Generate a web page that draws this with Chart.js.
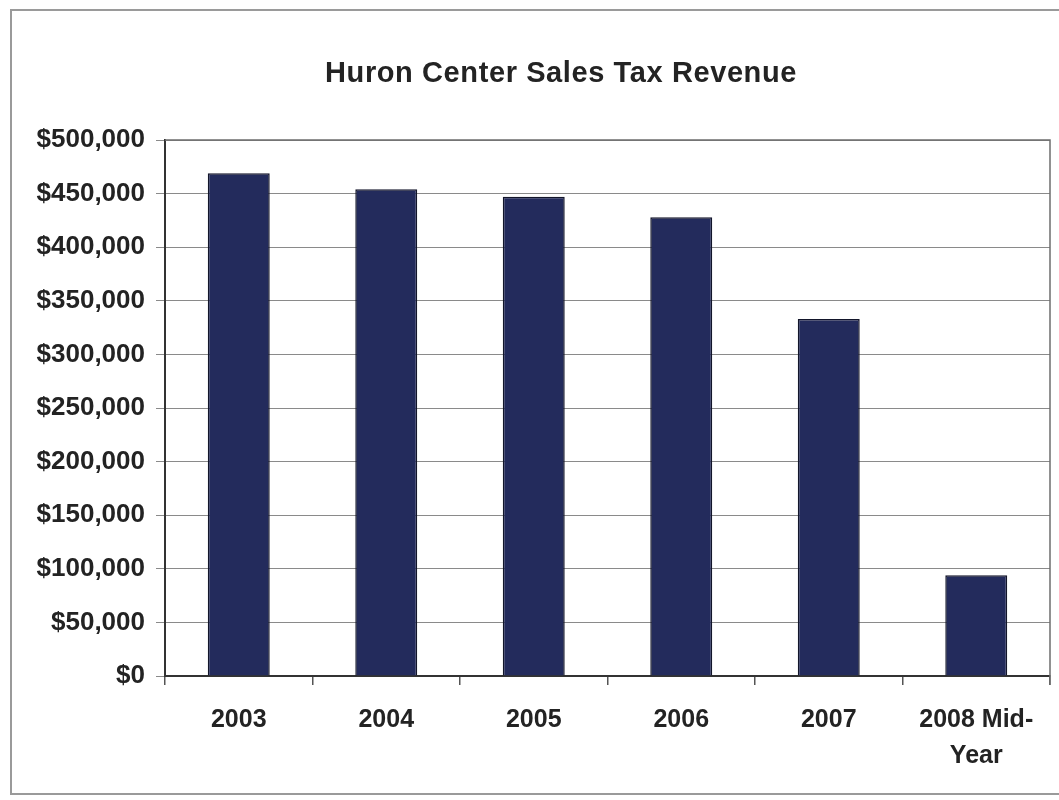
<!DOCTYPE html>
<html>
<head>
<meta charset="utf-8">
<title>Huron Center Sales Tax Revenue</title>
<script src="https://cdn.jsdelivr.net/npm/chart.js@4/dist/chart.umd.min.js"></script>
<style>
  html, body { margin: 0; padding: 0; background: #fff; }
  #wrap { width: 1059px; height: 800px; position: relative; }
</style>
</head>
<body>
<div id="wrap"><canvas id="taxChart" width="1059" height="800"></canvas></div>
<script>
'use strict';
// chart data
const chartTitle = 'Huron Center Sales Tax Revenue';
const years = ['2003', '2004', '2005', '2006', '2007', ['2008 Mid-', 'Year']];
const revenue = [469000, 454000, 447000, 428000, 333000, 94000];
const yTicks = [0, 50000, 100000, 150000, 200000, 250000, 300000, 350000, 400000, 450000, 500000];

const textColor = '#232323';
const font = 'Arial, "Liberation Sans", Helvetica, sans-serif';

function formatCur(v) {
    return '$' + v.toLocaleString('en-US');
}

// outer frame, title, gray top/right plot border
const framePlugin = {
    id: 'frame',
    beforeDraw(chart) {
        const ctx = chart.ctx;
        ctx.save();
        ctx.fillStyle = '#fff';
        ctx.fillRect(0, 0, chart.width, chart.height);
        ctx.strokeStyle = '#9a9a9a';
        ctx.lineWidth = 2;
        ctx.strokeRect(11, 10, chart.width + 20, 784);

        // title, a bit right of the plot centre like the original
        ctx.fillStyle = textColor;
        ctx.font = 'bold 29px ' + font;
        if ('letterSpacing' in ctx) ctx.letterSpacing = '0.6px';
        ctx.textAlign = 'center';
        ctx.textBaseline = 'middle';
        ctx.fillText(chartTitle, 561, 74);
        ctx.restore();
    },
    beforeDatasetsDraw(chart) {
        const a = chart.chartArea;
        const ctx = chart.ctx;
        ctx.save();
        ctx.strokeStyle = '#6e6e6e';
        ctx.lineWidth = 1.5;
        ctx.beginPath();
        ctx.moveTo(a.left, a.top);
        ctx.lineTo(a.right, a.top);
        ctx.lineTo(a.right, a.bottom + 9);
        ctx.stroke();
        ctx.restore();
    }
};

new Chart(document.getElementById('taxChart'), {
    type: 'bar',
    data: {
        labels: years,
        datasets: [{
            label: 'Sales Tax Revenue',
            data: revenue,
            backgroundColor: '#232b5c',
            borderColor: '#12152a',
            borderWidth: 1.5,
            categoryPercentage: 1,
            barPercentage: 0.42
        }]
    },
    options: {
        responsive: false,
        animation: false,
        layout: { padding: { left: 0, right: 9, top: 140, bottom: 0 } },
        plugins: {
            legend: { display: false },
            tooltip: { enabled: false },
            title: { display: false }
        },
        scales: {
            x: {
                grid: { drawOnChartArea: false, tickLength: 9, color: '#555', lineWidth: 1.5 },
                border: { color: '#333', width: 2 },
                ticks: {
                    color: textColor,
                    padding: 17,
                    font: { family: font, size: 25, weight: 'bold', lineHeight: 1.45 }
                },
                afterFit(scale) { scale.height = 124; }
            },
            y: {
                min: 0,
                max: 500000,
                afterBuildTicks(scale) { scale.ticks = yTicks.map(v => ({ value: v })); },
                grid: { color: '#8a8a8a', lineWidth: 1, tickLength: 9 },
                border: { color: '#333', width: 2 },
                ticks: {
                    color: textColor,
                    padding: 11,
                    font: { family: font, size: 26, weight: 'bold' },
                    callback: v => formatCur(v)
                },
                afterFit(scale) { scale.width = 165; }
            }
        }
    },
    plugins: [framePlugin]
});
</script>
</body>
</html>
